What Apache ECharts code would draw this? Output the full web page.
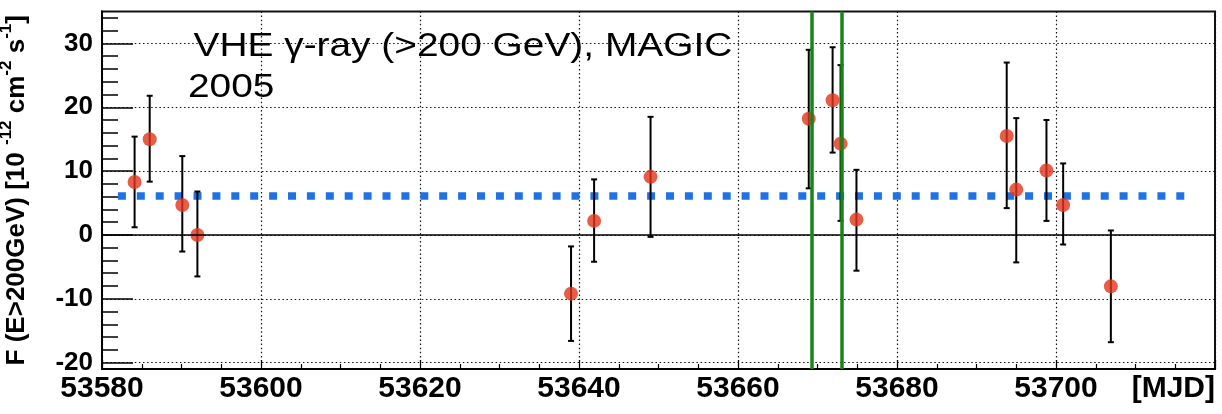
<!DOCTYPE html>
<html>
<head>
<meta charset="utf-8">
<script src="https://cdn.jsdelivr.net/npm/echarts@6/dist/echarts.min.js"></script>
<style>
  html, body { margin: 0; padding: 0; background: #fff; }
  #chart { width: 1222px; height: 414px; }
</style>
</head>
<body>
<div id="chart"></div>
<script>
// Nightly VHE light curve, MAGIC 2005
const mjd      = [53584.1, 53586.0, 53590.1, 53592.0, 53639.0, 53641.9, 53649.0, 53668.9,
                  53671.9, 53672.9, 53674.9, 53693.8, 53695.0, 53698.8, 53700.9, 53706.9];
const flux     = [8.3, 15.0, 4.7, 0.0, -9.2, 2.2, 9.1, 18.2,
                  21.1, 14.3, 2.4, 15.5, 7.1, 10.1, 4.7, -8.05];
const fluxLow  = [1.2, 8.35, -2.6, -6.5, -16.6, -4.2, -0.3, 7.3,
                  12.9, 2.2, -5.6, 4.2, -4.3, 2.2, -1.5, -16.8];
const fluxHigh = [15.4, 21.8, 12.35, 6.8, -1.8, 8.7, 18.5, 29.0,
                  29.4, 26.6, 10.2, 27.0, 18.3, 18.0, 11.2, 0.7];

// constant-flux fit level and its MJD span
const meanFlux = 6.1;
const meanSpan = [53582.0, 53717.0];

// flare window boundaries
const flareMjd = [53669.3, 53673.0];

// axis ticks
const yMajorTicks = [-20, -10, 0, 10, 20, 30];
const yMinorTicks = [-18, -16, -14, -12, -8, -6, -4, -2, 2, 4, 6, 8,
                     12, 14, 16, 18, 22, 24, 26, 28, 32, 34];

const titleLine1 = 'VHE \u03b3-ray (>200 GeV), MAGIC';
const titleLine2 = '2005';

const FONT = '"Liberation Sans", Arial, Helvetica, sans-serif';

const chart = echarts.init(document.getElementById('chart'), null, { renderer: 'canvas' });

const yAxisCommon = {
  type: 'value',
  min: -21,
  max: 35,
  position: 'left'
};

chart.setOption({
  animation: false,
  backgroundColor: '#fff',
  grid: {
    left: 102, right: 7, top: 11.5, bottom: 45,
    containLabel: false,
    outerBoundsMode: 'none',
    show: true, borderColor: '#111', borderWidth: 2, backgroundColor: '#fff'
  },
  graphic: [
    {
      type: 'text', x: 193.5, y: 47, scaleX: 1.16, z: 50,
      style: { text: titleLine1, fontSize: 33.5, fontFamily: FONT, fill: '#000',
               align: 'left', verticalAlign: 'middle' }
    },
    {
      type: 'text', x: 188, y: 88, scaleX: 1.16, z: 50,
      style: { text: titleLine2, fontSize: 33.5, fontFamily: FONT, fill: '#000',
               align: 'left', verticalAlign: 'middle' }
    }
  ],
  xAxis: {
    type: 'value',
    min: 53580,
    max: 53720,
    interval: 20,
    axisLine: { show: true, onZero: false, lineStyle: { color: '#000', width: 2 } },
    axisTick: { show: true, inside: true, length: 9, lineStyle: { color: '#000', width: 1.2 } },
    minorTick: { show: true, splitNumber: 4, length: 5, lineStyle: { color: '#000', width: 1.2 } },
    axisLabel: {
      showMaxLabel: false, margin: 5, color: '#000',
      fontSize: 30, fontWeight: 'bold', fontFamily: FONT,
      formatter: v => String(v)
    },
    splitLine: { show: true, lineStyle: { color: '#111', width: 1.2, type: [1.5, 2.6] } },
    name: '[MJD]',
    nameLocation: 'end',
    nameGap: 0,
    nameTextStyle: {
      color: '#000', fontSize: 30, fontWeight: 'bold', fontFamily: FONT,
      align: 'right', verticalAlign: 'top', padding: [5, 0, 0, 0]
    }
  },
  yAxis: [
    Object.assign({}, yAxisCommon, {
      axisLine: { show: true, onZero: false, lineStyle: { color: '#000', width: 2 } },
      axisTick: { show: true, inside: true, length: 31, customValues: yMajorTicks,
                  lineStyle: { color: '#000', width: 1.5 } },
      axisLabel: {
        customValues: yMajorTicks, margin: 9, color: '#000',
        fontSize: 26, fontWeight: 'bold', fontFamily: FONT,
        formatter: v => String(v)
      },
      splitLine: { show: true, lineStyle: { color: '#111', width: 1.2, type: [1.5, 2.6] } },
      name: '{m|F (E>200GeV) [10 }{s|-12}{m| cm}{s|-2}{m| s}{s|-1}{m|]}',
      nameLocation: 'middle',
      nameRotate: 90,
      nameGap: 72,
      nameTextStyle: {
        color: '#000',
        rich: {
          m: { fontSize: 26, fontWeight: 'bold', fontFamily: FONT, color: '#000',
               lineHeight: 32, verticalAlign: 'bottom' },
          s: { fontSize: 17, fontWeight: 'bold', fontFamily: FONT, color: '#000',
               lineHeight: 18, verticalAlign: 'top' }
        }
      }
    }),
    Object.assign({}, yAxisCommon, {
      axisLine: { show: false },
      axisTick: { show: true, inside: true, length: 16, customValues: yMinorTicks,
                  lineStyle: { color: '#000', width: 1.5 } },
      axisLabel: { show: false },
      splitLine: { show: false }
    })
  ],
  series: [
    {
      // constant-flux level
      type: 'line',
      z: 2,
      silent: true,
      symbol: 'none',
      data: meanSpan.map(m => [m, meanFlux]),
      lineStyle: { color: '#1e72e4', width: 7.5, type: [8, 10.9], cap: 'butt' },
      markLine: {
        silent: true,
        symbol: 'none',
        label: { show: false },
        lineStyle: { color: '#000', width: 1.5, type: 'solid' },
        data: [{ yAxis: 0 }]
      }
    },
    {
      // flux error bars
      type: 'custom',
      z: 3,
      silent: true,
      data: mjd.map((m, i) => [m, fluxLow[i], fluxHigh[i]]),
      encode: { x: 0, y: [1, 2] },
      renderItem: function (params, api) {
        const x = api.value(0);
        const lo = api.coord([x, api.value(1)]);
        const hi = api.coord([x, api.value(2)]);
        const cap = 3;
        const st = { stroke: '#000', lineWidth: 2 };
        return {
          type: 'group',
          children: [
            { type: 'line', shape: { x1: lo[0], y1: lo[1], x2: hi[0], y2: hi[1] }, style: st },
            { type: 'line', shape: { x1: lo[0] - cap, y1: lo[1], x2: lo[0] + cap, y2: lo[1] }, style: st },
            { type: 'line', shape: { x1: hi[0] - cap, y1: hi[1], x2: hi[0] + cap, y2: hi[1] }, style: st }
          ]
        };
      },
      markLine: {
        silent: true,
        symbol: 'none',
        label: { show: false },
        lineStyle: { color: '#17861a', width: 3.5, type: 'solid' },
        data: flareMjd.map(m => ({ xAxis: m }))
      }
    },
    {
      // nightly flux points
      type: 'scatter',
      z: 4,
      silent: true,
      symbol: 'circle',
      symbolSize: 14,
      itemStyle: { color: '#e3341a' },
      data: mjd.map((m, i) => [m, flux[i]])
    }
  ]
});
</script>
</body>
</html>
